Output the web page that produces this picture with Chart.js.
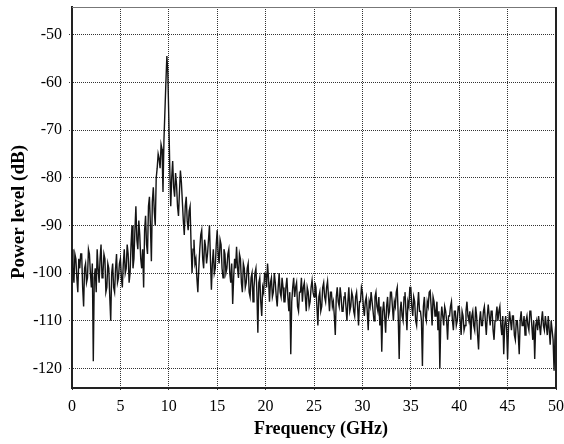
<!DOCTYPE html>
<html>
<head>
<meta charset="utf-8">
<script src="https://cdn.jsdelivr.net/npm/chart.js@4.4.0/dist/chart.umd.min.js"></script>
<style>
html,body{margin:0;padding:0;background:#fff;}
canvas{display:block;}
</style>
</head>
<body>
<canvas id="c" width="564" height="444"></canvas>
<script>
// Frequency grid (GHz)
const freqGHz = [
0,0.1,0.2,0.3,0.4,0.5,0.6,0.7,0.8,0.9,1,1.1,1.2,1.3,1.4,1.5,1.6,1.7,1.8,1.9,
2,2.1,2.2,2.3,2.4,2.5,2.6,2.7,2.8,2.9,3,3.1,3.2,3.3,3.4,3.5,3.6,3.7,3.8,3.9,
4,4.1,4.2,4.3,4.4,4.5,4.6,4.7,4.8,4.9,5,5.1,5.2,5.3,5.4,5.5,5.6,5.7,5.8,5.9,
6,6.1,6.2,6.3,6.4,6.5,6.6,6.7,6.8,6.9,7,7.1,7.2,7.3,7.4,7.5,7.6,7.7,7.8,7.9,
8,8.1,8.2,8.3,8.4,8.5,8.6,8.7,8.8,8.9,9,9.1,9.2,9.3,9.4,9.5,9.6,9.7,9.8,9.9,
10,10.1,10.2,10.3,10.4,10.5,10.6,10.7,10.8,10.9,11,11.1,11.2,11.3,11.4,11.5,11.6,11.7,11.8,11.9,
12,12.1,12.2,12.3,12.4,12.5,12.6,12.7,12.8,12.9,13,13.1,13.2,13.3,13.4,13.5,13.6,13.7,13.8,13.9,
14,14.1,14.2,14.3,14.4,14.5,14.6,14.7,14.8,14.9,15,15.1,15.2,15.3,15.4,15.5,15.6,15.7,15.8,15.9,
16,16.1,16.2,16.3,16.4,16.5,16.6,16.7,16.8,16.9,17,17.1,17.2,17.3,17.4,17.5,17.6,17.7,17.8,17.9,
18,18.1,18.2,18.3,18.4,18.5,18.6,18.7,18.8,18.9,19,19.1,19.2,19.3,19.4,19.5,19.6,19.7,19.8,19.9,
20,20.1,20.2,20.3,20.4,20.5,20.6,20.7,20.8,20.9,21,21.1,21.2,21.3,21.4,21.5,21.6,21.7,21.8,21.9,
22,22.1,22.2,22.3,22.4,22.5,22.6,22.7,22.8,22.9,23,23.1,23.2,23.3,23.4,23.5,23.6,23.7,23.8,23.9,
24,24.1,24.2,24.3,24.4,24.5,24.6,24.7,24.8,24.9,25,25.1,25.2,25.3,25.4,25.5,25.6,25.7,25.8,25.9,
26,26.1,26.2,26.3,26.4,26.5,26.6,26.7,26.8,26.9,27,27.1,27.2,27.3,27.4,27.5,27.6,27.7,27.8,27.9,
28,28.1,28.2,28.3,28.4,28.5,28.6,28.7,28.8,28.9,29,29.1,29.2,29.3,29.4,29.5,29.6,29.7,29.8,29.9,
30,30.1,30.2,30.3,30.4,30.5,30.6,30.7,30.8,30.9,31,31.1,31.2,31.3,31.4,31.5,31.6,31.7,31.8,31.9,
32,32.1,32.2,32.3,32.4,32.5,32.6,32.7,32.8,32.9,33,33.1,33.2,33.3,33.4,33.5,33.6,33.7,33.8,33.9,
34,34.1,34.2,34.3,34.4,34.5,34.6,34.7,34.8,34.9,35,35.1,35.2,35.3,35.4,35.5,35.6,35.7,35.8,35.9,
36,36.1,36.2,36.3,36.4,36.5,36.6,36.7,36.8,36.9,37,37.1,37.2,37.3,37.4,37.5,37.6,37.7,37.8,37.9,
38,38.1,38.2,38.3,38.4,38.5,38.6,38.7,38.8,38.9,39,39.1,39.2,39.3,39.4,39.5,39.6,39.7,39.8,39.9,
40,40.1,40.2,40.3,40.4,40.5,40.6,40.7,40.8,40.9,41,41.1,41.2,41.3,41.4,41.5,41.6,41.7,41.8,41.9,
42,42.1,42.2,42.3,42.4,42.5,42.6,42.7,42.8,42.9,43,43.1,43.2,43.3,43.4,43.5,43.6,43.7,43.8,43.9,
44,44.1,44.2,44.3,44.4,44.5,44.6,44.7,44.8,44.9,45,45.1,45.2,45.3,45.4,45.5,45.6,45.7,45.8,45.9,
46,46.1,46.2,46.3,46.4,46.5,46.6,46.7,46.8,46.9,47,47.1,47.2,47.3,47.4,47.5,47.6,47.7,47.8,47.9,
48,48.1,48.2,48.3,48.4,48.5,48.6,48.7,48.8,48.9,49,49.1,49.2,49.3,49.4,49.5,49.6,49.7,49.8,49.9,
50
];

// Power level (dB), 10 values per GHz
const powerDb = [
-95,-99,-102,-96,-97,-101,-104,-97,-99,-96,
-96,-103,-107,-99,-98,-102,-101,-95,-96,-100,
-103,-98,-118.5,-101,-99,-104,-95,-99,-102,-97,
-94,-101,-100,-96,-97,-104,-103,-98,-99,-105,
-110,-100,-98,-103,-104,-99,-96,-102,-101,-98,
-97,-101,-103,-98,-95,-100,-99,-94,-96,-102,
-100,-94,-90,-99,-97,-91,-86,-93,-95,-89,
-92,-97,-99,-95,-103,-91,-88,-94,-96,-86,
-84,-90,-97.5,-85,-82,-87,-90,-80,-78,-75,
-76,-78,-73,-74,-83,-72,-66,-60,-54.5,-58,
-67.5,-78,-86,-80,-76.5,-82,-84,-79,-81.5,-86,
-88,-83,-78.5,-81,-85,-89,-92,-86,-84,-89,
-91,-87,-86,-94,-100,-95,-93,-98,-97,-101,
-104,-99,-95,-92,-91,-97,-99,-93,-94.5,-98,
-96,-93,-90,-97,-103.5,-98,-95,-100,-99,-94,
-91,-96,-98,-93,-94,-99,-101,-95,-96,-100,
-99,-96,-95,-100,-102,-98,-106.5,-101,-97,-99,
-94.5,-99,-101,-96,-97,-102,-104,-98,-99,-103,
-102,-99,-98,-104,-105,-101,-100,-106,-103,-100,
-99,-104,-112.5,-102,-101,-106,-109,-103,-104,-100,
-100,-103,-98,-101,-106,-102,-101,-105,-104,-100,
-102,-105,-107,-103,-100,-104,-105,-101,-103,-106,
-106,-103,-101,-105,-108,-104,-117,-106,-103,-101,
-105,-103,-102,-107,-108,-104,-104,-101,-106,-103,
-102,-105,-108,-103,-104,-107,-106,-103,-101.5,-104,
-105,-102,-103,-107,-111,-105,-104,-108,-107,-103,
-102,-105,-106,-103,-101.7,-105,-108,-104,-104,-107,
-106,-109,-113,-105,-103,-106,-107,-103,-105,-108,
-108,-105,-104,-107,-110,-106,-103,-108,-107,-104,
-105,-108,-109,-105,-104,-107,-111,-106,-106,-103,
-104,-107,-109,-106,-105,-108,-112,-106,-107,-104,
-106,-108,-110,-105,-104,-107,-108,-105,-111,-107,
-116.5,-108,-106,-109,-112.5,-107,-105,-109,-108,-104,
-104,-107,-110,-106,-107,-104,-103,-109,-118,-108,
-106,-109,-110,-105,-104,-108,-112,-106,-107,-103,
-103,-107,-109,-105,-106,-110,-111,-107,-104,-108,
-108,-110,-119.5,-107,-105,-109,-110,-106,-107,-104,
-103.7,-107,-111,-105,-106,-109,-108,-106,-112,-108,
-120,-110,-107,-109,-111,-107,-108,-110,-114,-109,
-109,-107,-106,-110,-112,-108,-108,-111,-110,-107,
-107,-110,-113,-108,-109,-112,-111,-108,-106,-109,
-110,-108,-114,-109,-108,-111,-112,-107,-109,-113,
-116,-110,-108,-111,-111,-108,-107,-110,-113,-109,
-106.6,-109,-111,-108,-108,-112,-114,-110,-109,-107,
-110,-108,-107,-111,-113,-109,-117,-111,-109,-112,
-118,-111,-108,-110,-112,-109,-109,-113,-114,-110,
-110,-113,-117,-110,-108,-111,-111,-109,-113,-110,
-109,-111,-112,-108,-108,-111,-114,-110,-118,-111,
-110,-112,-109,-111,-113,-110,-108,-111,-112,-109,
-111,-113,-109,-112,-115,-110,-112,-114,-120.5,-113,
-110
];

const xTicks = [0,5,10,15,20,25,30,35,40,45,50];
const yTicks = [-120,-110,-100,-90,-80,-70,-60,-50];
const xTitle = 'Frequency (GHz)';
const yTitle = 'Power level (dB)';

const points = freqGHz.map((f, i) => ({x: f, y: powerDb[i]}));

const serif = "'Liberation Serif','Times New Roman',Times,serif";

const frame = {
  id: 'frame',
  afterDraw(chart) {
    const {ctx, chartArea: a} = chart;
    ctx.save();
    ctx.strokeStyle = '#777';
    ctx.lineWidth = 1;
    ctx.beginPath();
    ctx.moveTo(a.left, a.top + 0.5);
    ctx.lineTo(a.right, a.top + 0.5);
    ctx.stroke();
    ctx.strokeStyle = '#222';
    ctx.lineWidth = 2;
    ctx.beginPath();
    ctx.moveTo(a.right, a.top);
    ctx.lineTo(a.right, a.bottom + 1);
    ctx.stroke();
    // axis titles
    ctx.fillStyle = '#000';
    ctx.textAlign = 'center';
    ctx.textBaseline = 'middle';
    ctx.font = "bold 18px " + serif;
    ctx.fillText(xTitle, 321, 429);
    ctx.translate(19, 212);
    ctx.rotate(-Math.PI / 2);
    ctx.font = "bold 19px " + serif;
    ctx.fillText(yTitle, 0, 0);
    ctx.restore();
  }
};

const noPad = s => { s.paddingLeft = 0; s.paddingRight = 0; s.paddingTop = 0; s.paddingBottom = 0; };

new Chart(document.getElementById('c'), {
  type: 'line',
  data: {
    datasets: [{
      data: points,
      borderColor: '#141414',
      borderWidth: 1.4,
      pointRadius: 0,
      tension: 0,
      fill: false
    }]
  },
  options: {
    responsive: false,
    animation: false,
    devicePixelRatio: 1,
    layout: {padding: {top: 7, right: 8, left: 0, bottom: 0}},
    plugins: {legend: {display: false}, tooltip: {enabled: false}},
    scales: {
      x: {
        type: 'linear',
        min: 0, max: 50,
        afterBuildTicks: s => { s.ticks = xTicks.map(v => ({value: v})); },
        afterFit: s => { s.height = 56; noPad(s); },
        grid: {
          color: c => (c.tick && (c.tick.value === 0 || c.tick.value === 50)) ? 'rgba(0,0,0,0)' : '#333',
          tickColor: '#333',
          lineWidth: 1,
          drawTicks: true,
          tickLength: 3,
          tickBorderDash: [1, 1]
        },
        border: {display: true, color: '#222', width: 2, dash: [1, 1]},
        ticks: {
          color: '#000',
          font: {family: serif, size: 16},
          padding: 6,
          maxRotation: 0,
          autoSkip: false
        },
        title: {display: false}
      },
      y: {
        type: 'linear',
        min: -124.1, max: -44.2,
        afterBuildTicks: s => { s.ticks = yTicks.map(v => ({value: v})); },
        afterFit: s => { s.width = 72; noPad(s); },
        grid: {
          color: '#333',
          tickColor: '#333',
          lineWidth: 1,
          drawTicks: true,
          tickLength: 3,
          tickBorderDash: [1, 1]
        },
        border: {display: true, color: '#222', width: 2, dash: [1, 1]},
        ticks: {
          color: '#000',
          font: {family: serif, size: 16},
          padding: 7
        },
        title: {display: false}
      }
    }
  },
  plugins: [frame]
});
</script>
</body>
</html>
